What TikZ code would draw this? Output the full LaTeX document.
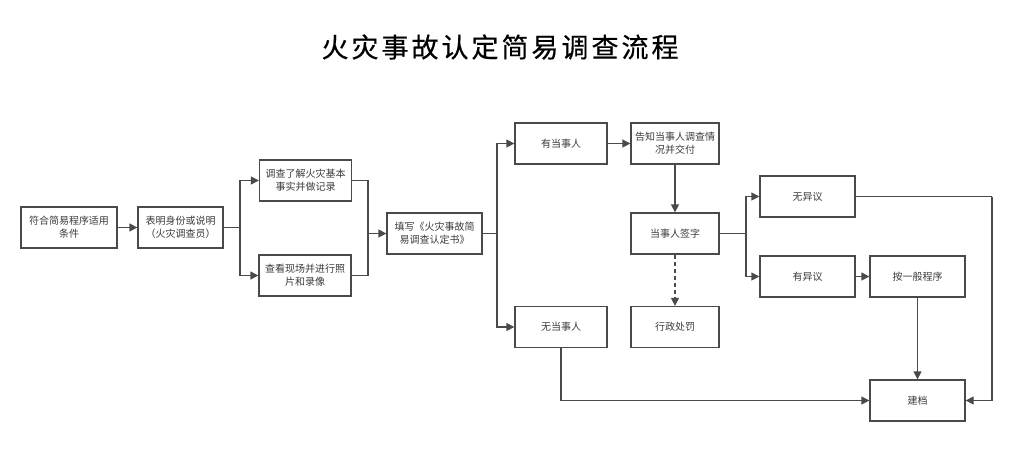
\documentclass[tikz,border=0pt]{standalone}
\usepackage{fontspec}
\newfontfamily\cjk{Noto Sans CJK SC}
\newfontfamily\cjktitle[FakeBold=0.5]{Noto Sans CJK SC}
\usepackage{xcolor}
\usepackage{tikz}
\usetikzlibrary{positioning,arrows.meta}

\definecolor{linegray}{HTML}{4A4A4A}
\definecolor{textgray}{HTML}{3A3A3A}

\tikzset{
  box/.style={draw=linegray, line width=1.3pt, minimum height=41pt, inner sep=1pt,
    align=center, text=textgray, font=\cjk\fontsize{10}{13}\selectfont},
  line/.style={draw=linegray, line width=1.3pt},
  arr/.style={line, -{Triangle[length=8pt,width=8pt]}},
  dasharr/.style={arr, dashed, dash pattern=on 4pt off 3pt}
}
\newcommand{\tsp}{\hspace{3pt}}

\begin{document}
\begin{tikzpicture}[x=1pt,y=-1pt]
  \useasboundingbox (0,0) rectangle (1031,453);
  % Title
  \node (title) at (500,47) {\cjktitle\fontsize{27}{30}\selectfont 火\tsp 灾\tsp 事\tsp 故\tsp 认\tsp 定\tsp 简\tsp 易\tsp 调\tsp 查\tsp 流\tsp 程};
  % Left part of the flow
  \node[box, minimum width=96pt] (cond) at (69,227.5) {符合简易程序适用\\条件};
  \node[box, minimum width=85pt] (ident) at (180.5,227.5) {表明身份或说明\\（火灾调查员）};
  \node[box, minimum width=92pt] (facts) at (305.5,180.5) {调查了解火灾基本\\事实并做记录};
  \node[box, minimum width=92pt] (scene) at (305,275.5) {查看现场并进行照\\片和录像};
  \node[box, minimum width=95pt] (form) at (434.5,233.5) {填写《火灾事故简\\易调查认定书》};
  % Parties
  \node[box, minimum width=92pt] (party) at (561,143.5) {有当事人};
  \node[box, minimum width=92pt] (noparty) at (561,327) {无当事人};
  \node[box, minimum width=88pt] (inform) at (675,143.5) {告知当事人调查情\\况并交付};
  \node[box, minimum width=88pt] (sign) at (675,233.5) {当事人签字};
  \node[box, minimum width=88pt] (penalty) at (675,327) {行政处罚};
  % Objections
  \node[box, minimum width=95pt] (noobj) at (807.5,196.5) {无异议};
  \node[box, minimum width=95pt] (obj) at (807.5,276.5) {有异议};
  \node[box, minimum width=95pt] (general) at (917.5,276.5) {按一般程序};
  \node[box, minimum width=95pt] (archive) at (917.5,400.5) {建档};
  % Junction points
  \coordinate (j1) at (240,227.5);
  \coordinate (j2) at (368,233.5);
  \coordinate (j3) at (497,233.5);
  \coordinate (j4) at (746,233.5);
  \coordinate (j5) at (992,196.5);
  % Connectors
  \draw[arr] (cond) -- (ident);
  \draw[line] (ident) -- (j1);
  \draw[arr] (j1) |- (facts);
  \draw[arr] (j1) |- (scene);
  \draw[line] (facts) -| (j2);
  \draw[line] (scene) -| (j2);
  \draw[arr] (j2) -- (form);
  \draw[line] (form) -- (j3);
  \draw[arr] (j3) |- (party);
  \draw[arr] (j3) |- (noparty);
  \draw[arr] (party) -- (inform);
  \draw[arr] (inform) -- (sign);
  \draw[dasharr] (sign) -- (penalty);
  \draw[line] (sign) -- (j4);
  \draw[arr] (j4) |- (noobj);
  \draw[arr] (j4) |- (obj);
  \draw[arr] (obj) -- (general);
  \draw[arr] (general) -- (archive);
  \draw[line] (noobj) -- (j5);
  \draw[arr] (j5) |- (archive);
  \draw[arr] (noparty) |- (archive);
\end{tikzpicture}
\end{document}
